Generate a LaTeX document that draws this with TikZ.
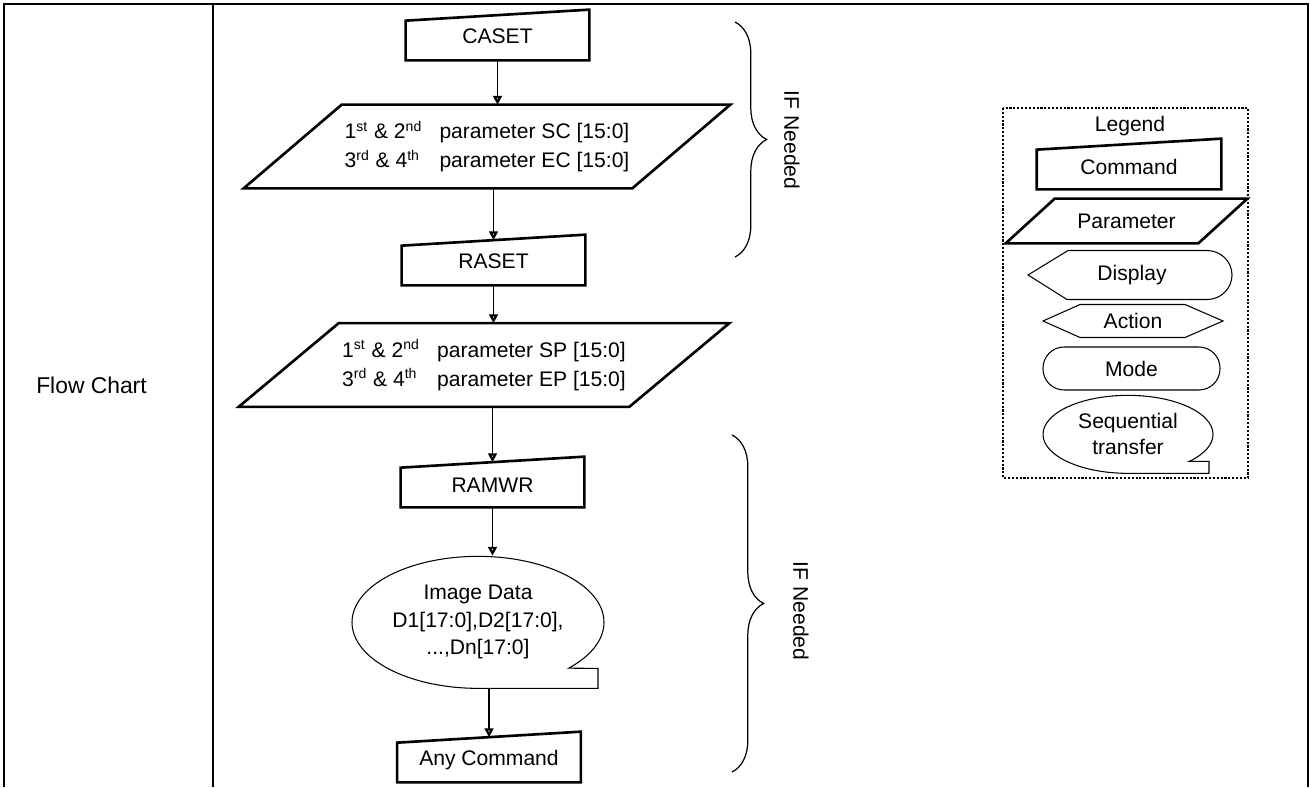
\documentclass[tikz,border=0pt]{standalone}
\usepackage{fontspec}
\setmainfont{Liberation Sans}
\usetikzlibrary{arrows.meta,positioning,calc,shapes.geometric,decorations.pathreplacing}
\pgfdeclarelayer{frames}
\pgfsetlayers{frames,main}
\tikzset{
  every node/.style={font=\fontsize{12}{14.5}\selectfont, inner sep=0pt},
  cmd/.style={minimum width=3.66cm, minimum height=0.89cm},
  frame/.style={draw, line width=1.5pt, line join=miter, fill=white},
  thin/.style={draw, line width=0.6pt, fill=white},
  param/.style={align=left, minimum height=1.66cm, minimum width=5.8cm},
  arr/.style={-{Triangle[open, length=5pt, width=5pt, line width=1.3pt]}, line width=0.7pt},
  rule/.style={line width=1.1pt},
  brace/.style={decorate, decoration={brace, amplitude=18pt}, line width=0.7pt},
  note/.style={rotate=-90},
}
% slanted-top command box and parameter parallelogram round a named node
\newcommand\cmdframe[1]{%
  \begin{pgfonlayer}{frames}
  \draw[frame] (#1.south west) -- ($(#1.north west)+(0,5.5)$) -- ($(#1.north east)+(0,-5.5)$) -- (#1.south east) -- cycle;
  \end{pgfonlayer}}
\newcommand\parframe[2]{%
  \begin{pgfonlayer}{frames}
  \draw[frame] ($(#1.south west)+(-#2,0)$) -- (#1.north west) -- ($(#1.north east)+(#2,0)$) -- (#1.south east) -- cycle;
  \end{pgfonlayer}}

\begin{document}
\begin{tikzpicture}[x=0.02cm, y=-0.02cm]
  \useasboundingbox (0,0) rectangle (1310,787);

  % ---- table -------------------------------------------------------------
  \draw[rule] (1308,787) -- (1308,4) -- (3,4);
  \draw[rule, line width=1.7pt] (4,3) -- (4,787);
  \draw[rule] (213,4) -- (213,787);
  \node[font=\fontsize{13}{15}\selectfont] (title) at (91.5,385) {Flow Chart};

  % ---- flow --------------------------------------------------------------
  \node[cmd] (caset) at (497.5,37.75) {\raisebox{2pt}{CASET}};
  \node[param] (sc) at (487,146.5)
    {\makebox[54pt][l]{1\textsuperscript{st} \& 2\textsuperscript{nd}}parameter SC [15:0]\\[2pt]
     \makebox[54pt][l]{3\textsuperscript{rd} \& 4\textsuperscript{th}}parameter EC [15:0]};
  \node[cmd] (raset) at (493.5,262.75) {\raisebox{2pt}{RASET}};
  \node[param] (sp) at (484,365)
    {\makebox[54pt][l]{1\textsuperscript{st} \& 2\textsuperscript{nd}}parameter SP [15:0]\\[2pt]
     \makebox[54pt][l]{3\textsuperscript{rd} \& 4\textsuperscript{th}}parameter EP [15:0]};
  \node[cmd] (ramwr) at (492.5,484.75) {RAMWR};
  \node[ellipse, minimum width=5.04cm, minimum height=2.64cm, align=center] (img) at (478,622)
    {Image Data\\[1pt]D1[17:0],D2[17:0],\\[1pt]...,Dn[17:0]};
  \node[cmd] (anycmd) at (489,759.75) {Any Command};

  \cmdframe{caset}
  \parframe{sc}{98}
  \cmdframe{raset}
  \parframe{sp}{100}
  \cmdframe{ramwr}
  \cmdframe{anycmd}
  \begin{pgfonlayer}{frames}
  \draw[thin] ($(img.south)+(120,0)$) -- (img.south) arc[start angle=90, end angle=404, x radius=126, y radius=66]
    -- ($(img.south)+(120,-20)$) -- cycle;
  \end{pgfonlayer}

  \draw[arr] (caset.south) -- (caset.south |- sc.north);
  \draw[arr] (raset.north |- sc.south) -- (raset.north);
  \draw[arr] (raset.south) -- (raset.south |- sp.north);
  \draw[arr] (ramwr.north |- sp.south) -- (ramwr.north);
  \draw[arr] (ramwr.south) -- (ramwr.south |- img.north);
  \draw[arr] (anycmd.north |- img.south) -- (anycmd.north);

  % braces
  \coordinate (b1s) at (735,22);
  \coordinate (b1e) at (735,257);
  \draw[brace] (b1s) -- (b1e);
  \node[note] (need1) at (792,140) {IF Needed};
  \coordinate (b2s) at (732,435);
  \coordinate (b2e) at (732,772);
  \draw[brace] (b2s) -- (b2e);
  \node[note] (need2) at (801,611) {IF Needed};

  % ---- legend ------------------------------------------------------------
  \draw[line width=0.8pt, dash pattern=on 1.2pt off 1pt] (1003,108) rectangle (1248,478);
  \node (leg) at (1130,126) {Legend};
  \node[cmd, minimum width=3.68cm] (legcmd) at (1129,166.75) {Command};
  \cmdframe{legcmd}
  \node[minimum width=2.86cm, minimum height=0.88cm] (legpar) at (1126.5,221) {Parameter};
  \parframe{legpar}{49}
  \node (legdisp) at (1132,275) {Display};
  \node (legact) at (1133,321) {Action};
  \node (legmode) at (1131.5,368.5) {Mode};
  \node[ellipse, minimum width=3.4cm, minimum height=1.56cm, align=center] (legseq) at (1128,434)
    {Sequential\\transfer};
  \begin{pgfonlayer}{frames}
  \draw[thin] ($(legdisp)+(-104,0)$) -- ($(legdisp)+(-64,-24.5)$) -- ($(legdisp)+(75,-24.5)$)
    arc[start angle=-90, end angle=90, x radius=25, y radius=24.5] -- ($(legdisp)+(-65,24.5)$) -- cycle;
  \draw[thin] ($(legact)+(-90,0)$) -- ($(legact)+(-53,-16.5)$) -- ($(legact)+(52,-16.5)$) -- ($(legact)+(90,0)$)
    -- ($(legact)+(52,16.5)$) -- ($(legact)+(-53,16.5)$) -- cycle;
  \draw[thin, rounded corners=12pt] ($(legmode)+(-88.5,-21.5)$) rectangle ($(legmode)+(88.5,21.5)$);
  \draw[thin] ($(legseq.south)+(81,0)$) -- (legseq.south) arc[start angle=90, end angle=404, x radius=85, y radius=39]
    -- ($(legseq.south)+(81,-12)$) -- cycle;
  \end{pgfonlayer}
\end{tikzpicture}
\end{document}
